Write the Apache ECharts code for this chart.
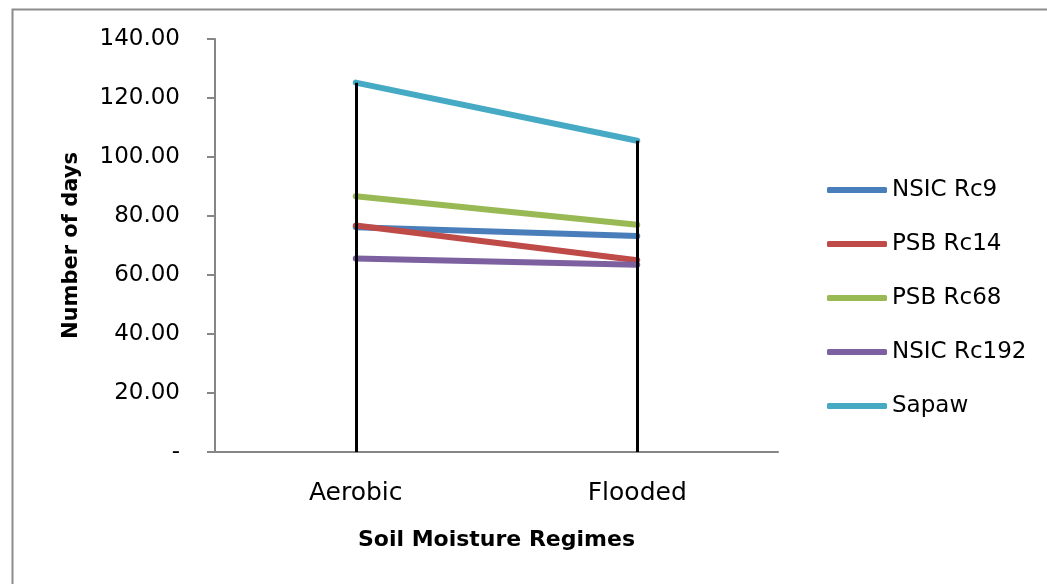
<!DOCTYPE html>
<html>
<head>
<meta charset="utf-8">
<script src="https://cdn.jsdelivr.net/npm/echarts@6/dist/echarts.min.js"></script>
<style>html,body{margin:0;padding:0;background:#fff;}#c{width:1047px;height:584px;}</style>
</head>
<body>
<div id="c"></div>
<script>
const categories = ['Aerobic', 'Flooded'];
const seriesNames = ['NSIC Rc9', 'PSB Rc14', 'PSB Rc68', 'NSIC Rc192', 'Sapaw'];
const nsicRc9 = [76.2, 73.2];
const psbRc14 = [76.8, 65.0];
const psbRc68 = [86.7, 77.0];
const nsicRc192 = [65.6, 63.5];
const sapaw = [125.2, 105.5];
const yTickValues = [0, 20, 40, 60, 80, 100, 120, 140];
const yTickLabels = ['-', '20.00', '40.00', '60.00', '80.00', '100.00', '120.00', '140.00'];
const colors = ['#4a7ebb', '#be4b48', '#98b954', '#7d60a0', '#46aac5'];

const allSeries = [nsicRc9, psbRc14, psbRc68, nsicRc192, sapaw];
const FONT = 'DejaVu Sans';

const dropLines = categories.map((c, i) => {
  const top = Math.max(...allSeries.map(s => s[i]));
  return [{ coord: [c, top] }, { coord: [c, 0] }];
});

const chart = echarts.init(document.getElementById('c'));
chart.setOption({
  animation: false,
  backgroundColor: '#fff',
  graphic: [{
    type: 'rect', left: 10, top: 7, z: 0,
    shape: { x: 0, y: 0, width: 1100, height: 640 },
    style: { fill: 'none', stroke: '#8c8c8c', lineWidth: 2 }
  }],
  grid: { left: 215, right: 269, top: 39, bottom: 132, containLabel: false },
  legend: {
    orient: 'vertical', left: 822, top: 173,
    itemWidth: 60, itemHeight: 6, itemGap: 30,
    icon: 'roundRect',
    textStyle: { fontFamily: FONT, fontSize: 23, color: '#000', lineHeight: 24 },
    data: seriesNames
  },
  xAxis: {
    type: 'category', data: categories, boundaryGap: true,
    axisLine: { lineStyle: { color: '#868686', width: 2 } },
    axisTick: { show: false },
    axisLabel: { fontFamily: FONT, fontSize: 25, color: '#000', margin: 29 },
    name: 'Soil Moisture Regimes', nameLocation: 'middle', nameGap: 77,
    nameTextStyle: { fontFamily: FONT, fontSize: 22, fontWeight: 'bold', color: '#000' }
  },
  yAxis: {
    type: 'value', min: 0, max: 140, interval: 20,
    axisLine: { show: true, lineStyle: { color: '#868686', width: 2 } },
    axisTick: { show: true, inside: false, length: 8, lineStyle: { color: '#868686', width: 2 } },
    splitLine: { show: false },
    axisLabel: {
      fontFamily: FONT, fontSize: 23, color: '#000', margin: 35,
      formatter: v => yTickLabels[yTickValues.indexOf(v)]
    },
    name: 'Number of days', nameLocation: 'middle', nameGap: 133,
    nameTextStyle: { fontFamily: FONT, fontSize: 21, fontWeight: 'bold', color: '#000' }
  },
  series: seriesNames.map((n, i) => ({
    name: n, type: 'line', data: allSeries[i],
    symbol: 'none', color: colors[i],
    lineStyle: { width: 6, color: colors[i], cap: 'round' },
    z: 3,
    markLine: i === seriesNames.length - 1 ? {
      silent: true, symbol: 'none', label: { show: false },
      lineStyle: { color: '#000', width: 3, type: 'solid' },
      data: dropLines, z: 5
    } : undefined
  }))
});
</script>
</body>
</html>
